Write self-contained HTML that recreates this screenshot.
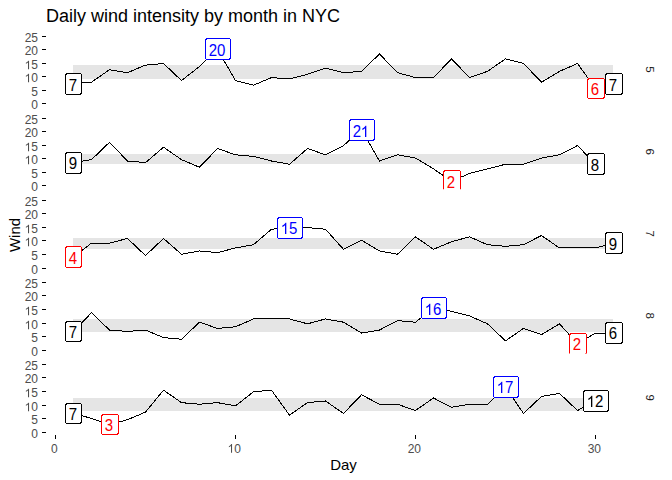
<!DOCTYPE html><html><head><meta charset="utf-8"><style>html,body{margin:0;padding:0;background:#fff;}svg{display:block;} text{font-family:"Liberation Sans", sans-serif;}</style></head><body>
<svg width="672" height="480" viewBox="0 0 672 480">
<defs><clipPath id="c0"><rect x="46.50" y="32.72" width="594.00" height="74.53"/></clipPath><clipPath id="c1"><rect x="46.50" y="114.80" width="594.00" height="74.52"/></clipPath><clipPath id="c2"><rect x="46.50" y="196.88" width="594.00" height="74.52"/></clipPath><clipPath id="c3"><rect x="46.50" y="278.96" width="594.00" height="74.52"/></clipPath><clipPath id="c4"><rect x="46.50" y="361.04" width="594.00" height="74.52"/></clipPath></defs>
<rect x="0" y="0" width="672" height="480" fill="#fff"/>
<text x="46" y="22" font-size="18" fill="#000">Daily wind intensity by month in NYC</text>
<text transform="translate(20,235) rotate(-90)" text-anchor="middle" font-size="15" fill="#000">Wind</text>
<text x="343.5" y="469.6" text-anchor="middle" font-size="15" fill="#000">Day</text>
<rect x="55" y="435" width="1" height="4" fill="#000"/>
<text x="50.96" y="452.70" font-size="12" fill="#4D4D4D">0</text>
<rect x="235" y="435" width="1" height="4" fill="#000"/>
<text x="227.63" y="452.70" font-size="12" fill="#4D4D4D"> 0</text><path transform="translate(227.584,452.70) scale(0.00586,-0.00586)" d="M763 0L583 0L583 1147Q518 1085 412 1023Q306 961 222 930L222 1104Q373 1175 486 1276Q599 1377 646 1472L763 1472Z" fill="#4D4D4D"/>
<rect x="415" y="435" width="1" height="4" fill="#000"/>
<text x="407.63" y="452.70" font-size="12" fill="#4D4D4D">20</text>
<rect x="595" y="435" width="1" height="4" fill="#000"/>
<text x="587.63" y="452.70" font-size="12" fill="#4D4D4D">30</text>
<rect x="42" y="103" width="4" height="1" fill="#000"/>
<text x="31.33" y="109.30" font-size="12" fill="#4D4D4D">0</text>
<rect x="42" y="90" width="4" height="1" fill="#000"/>
<text x="31.33" y="96.30" font-size="12" fill="#4D4D4D">5</text>
<rect x="42" y="76" width="4" height="1" fill="#000"/>
<text x="24.65" y="82.30" font-size="12" fill="#4D4D4D"> 0</text><path transform="translate(24.584,82.30) scale(0.00586,-0.00586)" d="M763 0L583 0L583 1147Q518 1085 412 1023Q306 961 222 930L222 1104Q373 1175 486 1276Q599 1377 646 1472L763 1472Z" fill="#4D4D4D"/>
<rect x="42" y="63" width="4" height="1" fill="#000"/>
<text x="24.65" y="69.30" font-size="12" fill="#4D4D4D"> 5</text><path transform="translate(24.584,69.30) scale(0.00586,-0.00586)" d="M763 0L583 0L583 1147Q518 1085 412 1023Q306 961 222 930L222 1104Q373 1175 486 1276Q599 1377 646 1472L763 1472Z" fill="#4D4D4D"/>
<rect x="42" y="49" width="4" height="1" fill="#000"/>
<text x="24.65" y="55.30" font-size="12" fill="#4D4D4D">20</text>
<rect x="42" y="36" width="4" height="1" fill="#000"/>
<text x="24.65" y="42.30" font-size="12" fill="#4D4D4D">25</text>
<text transform="translate(645.6,69.5) rotate(90)" text-anchor="middle" font-size="11.5" fill="#1A1A1A">5</text>
<g clip-path="url(#c0)">
<rect x="73" y="65" width="540" height="14" fill="#E5E5E5"/>
<polyline points="73.50,83.81 91.50,82.18 109.50,69.71 127.50,72.69 145.50,65.11 163.50,63.48 181.50,80.55 199.50,66.46 217.50,49.39 235.50,80.55 253.50,85.16 271.50,77.57 289.50,78.93 307.50,74.32 325.50,68.09 343.50,72.69 361.50,71.34 379.50,54.00 397.50,72.69 415.50,77.57 433.50,77.57 451.50,58.87 469.50,77.57 487.50,71.34 505.50,58.87 523.50,63.48 541.50,82.18 559.50,71.34 577.50,63.48 595.50,88.41 613.50,83.81" fill="none" stroke="#000" stroke-width="1" shape-rendering="crispEdges"/>
<rect x="65.5" y="73.5" width="16" height="21" rx="2.5" ry="2.5" fill="#fff" stroke="#000" stroke-width="1" shape-rendering="crispEdges"/>
<g transform="translate(0,91.00) scale(1,1.04)"><text x="68.83" y="0.00" font-size="15" fill="#000">7</text></g>
<rect x="605.5" y="73.5" width="17" height="21" rx="2.5" ry="2.5" fill="#fff" stroke="#000" stroke-width="1" shape-rendering="crispEdges"/>
<g transform="translate(0,91.00) scale(1,1.04)"><text x="608.83" y="0.00" font-size="15" fill="#000">7</text></g>
<rect x="587.5" y="78.5" width="17" height="20" rx="2.5" ry="2.5" fill="#fff" stroke="#FF0000" stroke-width="1" shape-rendering="crispEdges"/>
<g transform="translate(0,95.00) scale(1,1.04)"><text x="590.83" y="0.00" font-size="15" fill="#FF0000">6</text></g>
<rect x="205.5" y="38.5" width="25" height="21" rx="2.5" ry="2.5" fill="#fff" stroke="#0000FF" stroke-width="1" shape-rendering="crispEdges"/>
<g transform="translate(0,56.00) scale(1,1.04)"><text x="208.66" y="0.00" font-size="15" fill="#0000FF">20</text></g>
</g>
<rect x="42" y="185" width="4" height="1" fill="#000"/>
<text x="31.33" y="191.30" font-size="12" fill="#4D4D4D">0</text>
<rect x="42" y="172" width="4" height="1" fill="#000"/>
<text x="31.33" y="178.30" font-size="12" fill="#4D4D4D">5</text>
<rect x="42" y="158" width="4" height="1" fill="#000"/>
<text x="24.65" y="164.30" font-size="12" fill="#4D4D4D"> 0</text><path transform="translate(24.584,164.30) scale(0.00586,-0.00586)" d="M763 0L583 0L583 1147Q518 1085 412 1023Q306 961 222 930L222 1104Q373 1175 486 1276Q599 1377 646 1472L763 1472Z" fill="#4D4D4D"/>
<rect x="42" y="145" width="4" height="1" fill="#000"/>
<text x="24.65" y="151.30" font-size="12" fill="#4D4D4D"> 5</text><path transform="translate(24.584,151.30) scale(0.00586,-0.00586)" d="M763 0L583 0L583 1147Q518 1085 412 1023Q306 961 222 930L222 1104Q373 1175 486 1276Q599 1377 646 1472L763 1472Z" fill="#4D4D4D"/>
<rect x="42" y="131" width="4" height="1" fill="#000"/>
<text x="24.65" y="137.30" font-size="12" fill="#4D4D4D">20</text>
<rect x="42" y="118" width="4" height="1" fill="#000"/>
<text x="24.65" y="124.30" font-size="12" fill="#4D4D4D">25</text>
<text transform="translate(645.6,151.6) rotate(90)" text-anchor="middle" font-size="11.5" fill="#1A1A1A">6</text>
<g clip-path="url(#c1)">
<rect x="73" y="154" width="522" height="10" fill="#E5E5E5"/>
<polyline points="73.50,162.63 91.50,159.65 109.50,142.31 127.50,161.01 145.50,162.63 163.50,147.19 181.50,159.65 199.50,167.24 217.50,148.54 235.50,154.78 253.50,156.40 271.50,161.01 289.50,164.26 307.50,148.54 325.50,154.78 343.50,145.56 361.50,129.84 379.50,161.01 397.50,154.78 415.50,158.03 433.50,168.87 451.50,181.33 469.50,173.47 487.50,168.87 505.50,164.26 523.50,164.26 541.50,158.03 559.50,154.78 577.50,145.56 595.50,164.26" fill="none" stroke="#000" stroke-width="1" shape-rendering="crispEdges"/>
<rect x="65.5" y="152.5" width="16" height="21" rx="2.5" ry="2.5" fill="#fff" stroke="#000" stroke-width="1" shape-rendering="crispEdges"/>
<g transform="translate(0,169.00) scale(1,1.04)"><text x="68.83" y="0.00" font-size="15" fill="#000">9</text></g>
<rect x="587.5" y="153.5" width="17" height="21" rx="2.5" ry="2.5" fill="#fff" stroke="#000" stroke-width="1" shape-rendering="crispEdges"/>
<g transform="translate(0,171.00) scale(1,1.04)"><text x="590.83" y="0.00" font-size="15" fill="#000">8</text></g>
<rect x="443.5" y="170.5" width="17" height="21" rx="2.5" ry="2.5" fill="#fff" stroke="#FF0000" stroke-width="1" shape-rendering="crispEdges"/>
<g transform="translate(0,188.00) scale(1,1.04)"><text x="446.83" y="0.00" font-size="15" fill="#FF0000">2</text></g>
<rect x="349.5" y="119.5" width="25" height="21" rx="2.5" ry="2.5" fill="#fff" stroke="#0000FF" stroke-width="1" shape-rendering="crispEdges"/>
<g transform="translate(0,137.00) scale(1,1.04)"><text x="352.66" y="0.00" font-size="15" fill="#0000FF">2 </text><path transform="translate(360.730,0.00) scale(0.00732,-0.00732)" d="M763 0L583 0L583 1147Q518 1085 412 1023Q306 961 222 930L222 1104Q373 1175 486 1276Q599 1377 646 1472L763 1472Z" fill="#0000FF"/></g>
</g>
<rect x="42" y="268" width="4" height="1" fill="#000"/>
<text x="31.33" y="274.30" font-size="12" fill="#4D4D4D">0</text>
<rect x="42" y="254" width="4" height="1" fill="#000"/>
<text x="31.33" y="260.30" font-size="12" fill="#4D4D4D">5</text>
<rect x="42" y="240" width="4" height="1" fill="#000"/>
<text x="24.65" y="246.30" font-size="12" fill="#4D4D4D"> 0</text><path transform="translate(24.584,246.30) scale(0.00586,-0.00586)" d="M763 0L583 0L583 1147Q518 1085 412 1023Q306 961 222 930L222 1104Q373 1175 486 1276Q599 1377 646 1472L763 1472Z" fill="#4D4D4D"/>
<rect x="42" y="227" width="4" height="1" fill="#000"/>
<text x="24.65" y="233.30" font-size="12" fill="#4D4D4D"> 5</text><path transform="translate(24.584,233.30) scale(0.00586,-0.00586)" d="M763 0L583 0L583 1147Q518 1085 412 1023Q306 961 222 930L222 1104Q373 1175 486 1276Q599 1377 646 1472L763 1472Z" fill="#4D4D4D"/>
<rect x="42" y="213" width="4" height="1" fill="#000"/>
<text x="24.65" y="219.30" font-size="12" fill="#4D4D4D">20</text>
<rect x="42" y="200" width="4" height="1" fill="#000"/>
<text x="24.65" y="206.30" font-size="12" fill="#4D4D4D">25</text>
<text transform="translate(645.6,233.6) rotate(90)" text-anchor="middle" font-size="11.5" fill="#1A1A1A">7</text>
<g clip-path="url(#c2)">
<rect x="73" y="238" width="540" height="11" fill="#E5E5E5"/>
<polyline points="73.50,256.91 91.50,243.09 109.50,243.09 127.50,238.48 145.50,255.55 163.50,238.48 181.50,254.20 199.50,250.95 217.50,252.57 235.50,247.97 253.50,244.71 271.50,229.27 289.50,227.64 307.50,227.64 325.50,229.27 343.50,249.32 361.50,240.11 379.50,250.95 397.50,254.20 415.50,236.85 433.50,249.32 451.50,241.73 469.50,236.85 487.50,244.71 505.50,246.34 523.50,244.71 541.50,235.50 559.50,247.97 577.50,247.97 595.50,247.97 613.50,243.09" fill="none" stroke="#000" stroke-width="1" shape-rendering="crispEdges"/>
<rect x="65.5" y="246.5" width="16" height="21" rx="2.5" ry="2.5" fill="#fff" stroke="#000" stroke-width="1" shape-rendering="crispEdges"/>
<g transform="translate(0,264.00) scale(1,1.04)"><text x="68.83" y="0.00" font-size="15" fill="#000">4</text></g>
<rect x="605.5" y="232.5" width="17" height="21" rx="2.5" ry="2.5" fill="#fff" stroke="#000" stroke-width="1" shape-rendering="crispEdges"/>
<g transform="translate(0,250.00) scale(1,1.04)"><text x="608.83" y="0.00" font-size="15" fill="#000">9</text></g>
<rect x="65.5" y="246.5" width="16" height="21" rx="2.5" ry="2.5" fill="#fff" stroke="#FF0000" stroke-width="1" shape-rendering="crispEdges"/>
<g transform="translate(0,264.00) scale(1,1.04)"><text x="68.83" y="0.00" font-size="15" fill="#FF0000">4</text></g>
<rect x="277.5" y="217.5" width="25" height="21" rx="2.5" ry="2.5" fill="#fff" stroke="#0000FF" stroke-width="1" shape-rendering="crispEdges"/>
<g transform="translate(0,234.00) scale(1,1.04)"><text x="280.66" y="0.00" font-size="15" fill="#0000FF"> 5</text><path transform="translate(280.730,0.00) scale(0.00732,-0.00732)" d="M763 0L583 0L583 1147Q518 1085 412 1023Q306 961 222 930L222 1104Q373 1175 486 1276Q599 1377 646 1472L763 1472Z" fill="#0000FF"/></g>
</g>
<rect x="42" y="350" width="4" height="1" fill="#000"/>
<text x="31.33" y="356.30" font-size="12" fill="#4D4D4D">0</text>
<rect x="42" y="336" width="4" height="1" fill="#000"/>
<text x="31.33" y="342.30" font-size="12" fill="#4D4D4D">5</text>
<rect x="42" y="323" width="4" height="1" fill="#000"/>
<text x="24.65" y="329.30" font-size="12" fill="#4D4D4D"> 0</text><path transform="translate(24.584,329.30) scale(0.00586,-0.00586)" d="M763 0L583 0L583 1147Q518 1085 412 1023Q306 961 222 930L222 1104Q373 1175 486 1276Q599 1377 646 1472L763 1472Z" fill="#4D4D4D"/>
<rect x="42" y="309" width="4" height="1" fill="#000"/>
<text x="24.65" y="315.30" font-size="12" fill="#4D4D4D"> 5</text><path transform="translate(24.584,315.30) scale(0.00586,-0.00586)" d="M763 0L583 0L583 1147Q518 1085 412 1023Q306 961 222 930L222 1104Q373 1175 486 1276Q599 1377 646 1472L763 1472Z" fill="#4D4D4D"/>
<rect x="42" y="295" width="4" height="1" fill="#000"/>
<text x="24.65" y="301.30" font-size="12" fill="#4D4D4D">20</text>
<rect x="42" y="282" width="4" height="1" fill="#000"/>
<text x="24.65" y="288.30" font-size="12" fill="#4D4D4D">25</text>
<text transform="translate(645.6,315.7) rotate(90)" text-anchor="middle" font-size="11.5" fill="#1A1A1A">8</text>
<g clip-path="url(#c3)">
<rect x="73" y="319" width="540" height="13" fill="#E5E5E5"/>
<polyline points="73.50,331.40 91.50,312.70 109.50,330.05 127.50,331.40 145.50,330.05 163.50,337.63 181.50,339.26 199.50,322.19 217.50,328.42 235.50,326.79 253.50,318.94 271.50,318.94 289.50,318.94 307.50,323.81 325.50,318.94 343.50,322.19 361.50,333.03 379.50,330.05 397.50,320.56 415.50,322.19 433.50,308.10 451.50,311.35 469.50,315.95 487.50,323.81 505.50,340.89 523.50,328.42 541.50,334.65 559.50,323.81 577.50,343.87 595.50,333.03 613.50,333.03" fill="none" stroke="#000" stroke-width="1" shape-rendering="crispEdges"/>
<rect x="65.5" y="321.5" width="16" height="20" rx="2.5" ry="2.5" fill="#fff" stroke="#000" stroke-width="1" shape-rendering="crispEdges"/>
<g transform="translate(0,338.00) scale(1,1.04)"><text x="68.83" y="0.00" font-size="15" fill="#000">7</text></g>
<rect x="605.5" y="322.5" width="17" height="21" rx="2.5" ry="2.5" fill="#fff" stroke="#000" stroke-width="1" shape-rendering="crispEdges"/>
<g transform="translate(0,339.00) scale(1,1.04)"><text x="608.83" y="0.00" font-size="15" fill="#000">6</text></g>
<rect x="569.5" y="333.5" width="17" height="21" rx="2.5" ry="2.5" fill="#fff" stroke="#FF0000" stroke-width="1" shape-rendering="crispEdges"/>
<g transform="translate(0,350.00) scale(1,1.04)"><text x="572.83" y="0.00" font-size="15" fill="#FF0000">2</text></g>
<rect x="421.5" y="297.5" width="25" height="21" rx="2.5" ry="2.5" fill="#fff" stroke="#0000FF" stroke-width="1" shape-rendering="crispEdges"/>
<g transform="translate(0,315.00) scale(1,1.04)"><text x="424.66" y="0.00" font-size="15" fill="#0000FF"> 6</text><path transform="translate(424.730,0.00) scale(0.00732,-0.00732)" d="M763 0L583 0L583 1147Q518 1085 412 1023Q306 961 222 930L222 1104Q373 1175 486 1276Q599 1377 646 1472L763 1472Z" fill="#0000FF"/></g>
</g>
<rect x="42" y="432" width="4" height="1" fill="#000"/>
<text x="31.33" y="438.30" font-size="12" fill="#4D4D4D">0</text>
<rect x="42" y="418" width="4" height="1" fill="#000"/>
<text x="31.33" y="424.30" font-size="12" fill="#4D4D4D">5</text>
<rect x="42" y="405" width="4" height="1" fill="#000"/>
<text x="24.65" y="411.30" font-size="12" fill="#4D4D4D"> 0</text><path transform="translate(24.584,411.30) scale(0.00586,-0.00586)" d="M763 0L583 0L583 1147Q518 1085 412 1023Q306 961 222 930L222 1104Q373 1175 486 1276Q599 1377 646 1472L763 1472Z" fill="#4D4D4D"/>
<rect x="42" y="391" width="4" height="1" fill="#000"/>
<text x="24.65" y="397.30" font-size="12" fill="#4D4D4D"> 5</text><path transform="translate(24.584,397.30) scale(0.00586,-0.00586)" d="M763 0L583 0L583 1147Q518 1085 412 1023Q306 961 222 930L222 1104Q373 1175 486 1276Q599 1377 646 1472L763 1472Z" fill="#4D4D4D"/>
<rect x="42" y="377" width="4" height="1" fill="#000"/>
<text x="24.65" y="383.30" font-size="12" fill="#4D4D4D">20</text>
<rect x="42" y="364" width="4" height="1" fill="#000"/>
<text x="24.65" y="370.30" font-size="12" fill="#4D4D4D">25</text>
<text transform="translate(645.6,397.8) rotate(90)" text-anchor="middle" font-size="11.5" fill="#1A1A1A">9</text>
<g clip-path="url(#c4)">
<rect x="73" y="398" width="522" height="13" fill="#E5E5E5"/>
<polyline points="73.50,413.48 91.50,418.36 109.50,424.59 127.50,419.71 145.50,412.13 163.50,390.18 181.50,402.64 199.50,404.27 217.50,402.64 235.50,405.89 253.50,391.80 271.50,390.18 289.50,415.11 307.50,402.64 325.50,401.01 343.50,413.48 361.50,394.78 379.50,404.27 397.50,404.27 415.50,410.50 433.50,398.03 451.50,407.25 469.50,404.27 487.50,404.27 505.50,387.19 523.50,413.48 541.50,396.41 559.50,393.43 577.50,410.50 595.50,401.01" fill="none" stroke="#000" stroke-width="1" shape-rendering="crispEdges"/>
<rect x="65.5" y="403.5" width="16" height="20" rx="2.5" ry="2.5" fill="#fff" stroke="#000" stroke-width="1" shape-rendering="crispEdges"/>
<g transform="translate(0,420.00) scale(1,1.04)"><text x="68.83" y="0.00" font-size="15" fill="#000">7</text></g>
<rect x="583.5" y="390.5" width="25" height="21" rx="2.5" ry="2.5" fill="#fff" stroke="#000" stroke-width="1" shape-rendering="crispEdges"/>
<g transform="translate(0,407.00) scale(1,1.04)"><text x="586.66" y="0.00" font-size="15" fill="#000"> 2</text><path transform="translate(586.730,0.00) scale(0.00732,-0.00732)" d="M763 0L583 0L583 1147Q518 1085 412 1023Q306 961 222 930L222 1104Q373 1175 486 1276Q599 1377 646 1472L763 1472Z" fill="#000"/></g>
<rect x="101.5" y="414.5" width="17" height="20" rx="2.5" ry="2.5" fill="#fff" stroke="#FF0000" stroke-width="1" shape-rendering="crispEdges"/>
<g transform="translate(0,431.00) scale(1,1.04)"><text x="104.83" y="0.00" font-size="15" fill="#FF0000">3</text></g>
<rect x="493.5" y="376.5" width="25" height="21" rx="2.5" ry="2.5" fill="#fff" stroke="#0000FF" stroke-width="1" shape-rendering="crispEdges"/>
<g transform="translate(0,393.00) scale(1,1.04)"><text x="496.66" y="0.00" font-size="15" fill="#0000FF"> 7</text><path transform="translate(496.730,0.00) scale(0.00732,-0.00732)" d="M763 0L583 0L583 1147Q518 1085 412 1023Q306 961 222 930L222 1104Q373 1175 486 1276Q599 1377 646 1472L763 1472Z" fill="#0000FF"/></g>
</g>
</svg></body></html>
